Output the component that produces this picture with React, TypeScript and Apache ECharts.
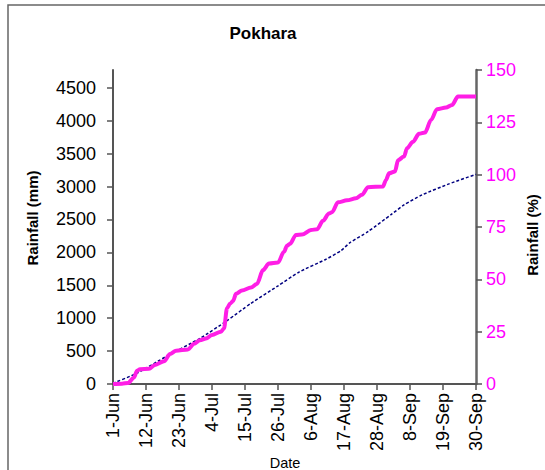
import React, { useEffect, useRef } from "react";
import * as echarts from "echarts";

const tickLabels = ["1-Jun", "12-Jun", "23-Jun", "4-Jul", "15-Jul", "26-Jul", "6-Aug", "17-Aug", "28-Aug", "8-Sep", "19-Sep", "30-Sep"];
const leftTicks = [0, 500, 1000, 1500, 2000, 2500, 3000, 3500, 4000, 4500];

// day index from 1-Jun, cumulative rainfall (mm)
const actualDays = [0, 3, 5, 7, 8, 9, 12, 14, 17, 19, 21, 25, 27, 29, 31, 33, 36, 37, 38, 39, 40, 41, 43, 46, 48, 50, 52, 55, 57, 58, 59, 61, 63, 66, 68, 70, 72, 73, 75, 78, 81, 83, 85, 90, 91, 92, 94, 95, 97, 98, 100, 102, 104, 106, 108, 111, 113, 115, 121];
const actualMm = [0, 5, 15, 100, 200, 225, 230, 290, 345, 455, 505, 525, 610, 665, 690, 745, 795, 845, 1150, 1220, 1260, 1370, 1420, 1465, 1520, 1730, 1830, 1845, 2010, 2100, 2130, 2265, 2270, 2340, 2350, 2480, 2590, 2610, 2760, 2790, 2820, 2875, 2990, 3000, 3100, 3200, 3230, 3400, 3455, 3580, 3680, 3800, 3820, 4010, 4175, 4200, 4240, 4366, 4366];

const normalDays = [0, 8, 18, 29, 38, 46, 55, 62, 71, 76, 79, 85, 93, 97, 103, 112, 121];
const normalMm = [10, 165, 425, 694, 962, 1226, 1490, 1700, 1895, 2026, 2147, 2315, 2584, 2720, 2872, 3040, 3185];

const normalTotal = 3180;

export default function App() {
  const ref = useRef<HTMLDivElement>(null);
  useEffect(() => {
    if (!ref.current) return;
    const chart = echarts.init(ref.current, null, { renderer: "svg" });
    const axisCol = "#555";
    const font = "Liberation Sans, Arial, sans-serif";
    chart.setOption({
      animation: false,
      backgroundColor: "#fff",
      textStyle: { fontFamily: font },
      graphic: [
        { type: "rect", shape: { x: 8, y: 5, width: 600, height: 520 }, style: { fill: "none", stroke: "#666", lineWidth: 1.5 }, silent: true },
        { type: "text", x: 263, y: 33, style: { text: "Pokhara", font: "bold 17px " + font, fill: "#000", align: "center", verticalAlign: "middle" } },
        { type: "text", x: 285, y: 463, style: { text: "Date", font: "14.5px " + font, fill: "#000", align: "center", verticalAlign: "middle" } },
        { type: "text", x: 32, y: 218, rotation: Math.PI / 2, style: { text: "Rainfall (mm)", font: "bold 15px " + font, fill: "#000", align: "center", verticalAlign: "middle" } },
        { type: "text", x: 532, y: 235, rotation: Math.PI / 2, style: { text: "Rainfall (%)", font: "bold 15px " + font, fill: "#000", align: "center", verticalAlign: "middle" } },
      ],
      grid: { left: 113, right: 69, top: 70, bottom: 86, containLabel: false },
      xAxis: {
        type: "value",
        min: 0,
        max: 121,
        interval: 11,
        splitLine: { show: false },
        axisLine: { show: true, lineStyle: { color: axisCol, width: 2 } },
        axisTick: { show: true, length: 6, lineStyle: { color: axisCol, width: 1.5 } },
        axisLabel: {
          rotate: 90,
          margin: 9,
          fontSize: 18,
          color: "#000",
          fontFamily: font,
          formatter: (v: number) => tickLabels[Math.round(v / 11)] ?? "",
        },
      },
      yAxis: [
        {
          type: "value",
          min: 0,
          max: 1.5 * normalTotal,
          position: "left",
          splitLine: { show: false },
          axisLine: { show: true, lineStyle: { color: axisCol, width: 2 } },
          axisTick: { show: true, length: 6, customValues: leftTicks, lineStyle: { color: axisCol, width: 1.5 } },
          axisLabel: { customValues: leftTicks, margin: 17, fontSize: 18, color: "#000", fontFamily: font, formatter: (v: number) => String(v) },
        },
        {
          type: "value",
          min: 0,
          max: 150,
          interval: 25,
          position: "right",
          splitLine: { show: false },
          axisLine: { show: true, lineStyle: { color: "#666", width: 2.5 } },
          axisTick: { show: true, length: 6, lineStyle: { color: axisCol, width: 1.5 } },
          axisLabel: { margin: 10, fontSize: 18, color: "#FF00FF", fontFamily: font, formatter: (v: number) => String(v) },
        },
      ],
      series: [
        {
          type: "line",
          name: "Normal",
          yAxisIndex: 0,
          data: normalDays.map((d, i) => [d, normalMm[i]]),
          symbol: "none",
          smooth: 0.2,
          lineStyle: { color: "#000080", width: 1.5, type: [3, 2] },
          z: 2,
        },
        {
          type: "line",
          name: "Actual",
          yAxisIndex: 0,
          data: actualDays.map((d, i) => [d, actualMm[i]]),
          symbol: "none",
          smooth: 0.3,
          smoothMonotone: "x",
          lineStyle: { color: "#FF1EE6", width: 4 },
          z: 3,
        },
      ],
    });
    return () => chart.dispose();
  }, []);
  return <div ref={ref} style={{ position: "absolute", left: 0, top: 0, width: 545, height: 470 }} />;
}
